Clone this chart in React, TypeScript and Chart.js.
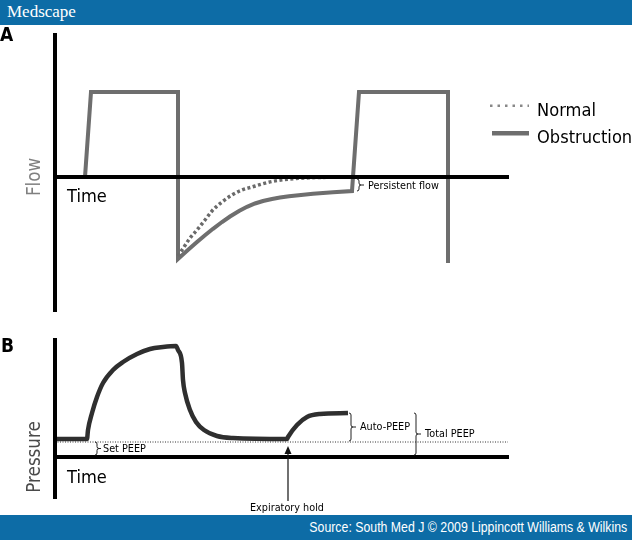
import React, { useEffect, useRef } from 'react';
import { Chart, registerables } from 'chart.js';

Chart.register(...registerables);

// ---------- Panel A: flow vs time (arbitrary units) ----------
const flowTimeObstruction = [30, 36, 123, 123, 129, 134, 142, 150, 158, 167, 175, 184, 192, 200, 208, 217, 225, 234, 258, 278, 297, 304, 393, 393];
const flowObstruction = [0, 85, 85, -82, -76.5, -72, -65, -58.2, -51.8, -45, -39.5, -34, -29.8, -26.5, -24, -22, -20.6, -19.3, -16.8, -15.2, -14, 85, 85, -86];
const flowTimeNormal = [123, 129, 135, 142, 150, 157, 167, 177, 187, 197, 207, 217, 235, 255, 285];
const flowNormal = [-79, -70, -61, -53, -43, -34, -25, -18, -13, -10, -7, -4.5, -2, -0.8, 0];
const flowSeriesNames = ['Normal', 'Obstruction'];
const persistentFlowTime = 302;
const persistentFlowLevel = -14;

// ---------- Panel B: pressure vs time (arbitrary units) ----------
const pressureTime = [0, 32, 33, 37, 42, 48, 58, 68, 82, 95, 108, 121, 123, 127, 128, 130, 135, 141, 149, 162, 178, 232, 233, 242, 252, 265, 293];
const pressure = [18, 18, 27, 44, 60, 74, 87, 95, 103, 108, 110, 111, 107, 94, 77, 64, 47, 35, 27, 21, 19, 18, 20, 32, 40, 43, 44];
const peepTime = [0, 453];
const setPeepLevel = [15, 15];
const autoPeepLevel = 44;
const setPeepBraceTime = 40;
const autoPeepBraceTime = 294;
const totalPeepBraceTime = 359;
const expiratoryHoldTime = 233;

const TIME_RANGE = [0, 453];
const FLOW_RANGE = [-134, 142];
const PRESSURE_RANGE = [-41, 117];

const BLUE = '#0d6ca6';
const SANS = '"DejaVu Sans", Verdana, sans-serif';

function txt(ctx: any, s: string, x: number, y: number, o: any = {}) {
  ctx.save();
  ctx.translate(x, y);
  if (o.rot) ctx.rotate(o.rot);
  ctx.scale(o.sx ?? 0.88, 1);
  ctx.font = o.font;
  ctx.fillStyle = o.color ?? '#000';
  ctx.textAlign = o.align ?? 'left';
  ctx.textBaseline = o.base ?? 'alphabetic';
  ctx.fillText(s, 0, 0);
  ctx.restore();
}

function brace(ctx: any, x: number, yTop: number, yBot: number, w: number) {
  const m = (yTop + yBot) / 2;
  const r = Math.min(2, (yBot - yTop) / 4);
  ctx.save();
  ctx.strokeStyle = '#222';
  ctx.lineWidth = 1;
  ctx.beginPath();
  ctx.moveTo(x, yTop);
  ctx.quadraticCurveTo(x + r, yTop, x + r, yTop + r);
  ctx.lineTo(x + r, m - r);
  ctx.quadraticCurveTo(x + r, m, x + 2 * r, m);
  ctx.lineTo(x + w, m);
  ctx.moveTo(x + 2 * r, m);
  ctx.quadraticCurveTo(x + r, m, x + r, m + r);
  ctx.lineTo(x + r, yBot - r);
  ctx.quadraticCurveTo(x + r, yBot, x, yBot);
  ctx.stroke();
  ctx.restore();
}

function axisScales(yRange: number[]) {
  const common = {
    type: 'linear',
    ticks: { display: false },
    grid: { display: false, drawTicks: false },
    border: { display: true, width: 4, color: '#000', z: 1 },
  };
  return {
    x: { ...common, min: TIME_RANGE[0], max: TIME_RANGE[1], position: { y: 0 } },
    y: { ...common, min: yRange[0], max: yRange[1] },
  };
}

const annotA = {
  id: 'annotA',
  afterDraw(chart: any) {
    const { ctx, chartArea, scales } = chart;
    const x = scales.x, y = scales.y;
    const y0 = y.getPixelForValue(0);
    txt(ctx, 'A', 0, 16, { font: `bold 19px ${SANS}`, sx: 0.9 });
    txt(ctx, 'Flow', chartArea.left - 20, y0, { font: `19px ${SANS}`, color: '#808080', rot: -Math.PI / 2, align: 'center', base: 'middle' });
    txt(ctx, 'Time', chartArea.left + 12, y0 + 25, { font: `18.5px ${SANS}` });
    const bx = x.getPixelForValue(persistentFlowTime);
    const bTop = y.getPixelForValue(0) + 2;
    const bBot = y.getPixelForValue(persistentFlowLevel);
    brace(ctx, bx, bTop, bBot, 7);
    txt(ctx, 'Persistent flow', bx + 11, (bTop + bBot) / 2 + 1, { font: `11px ${SANS}`, base: 'middle' });

    // legend
    const ds = chart.data.datasets;
    ctx.save();
    ctx.strokeStyle = '#888';
    ctx.lineWidth = 2.5;
    ctx.setLineDash([2.5, 5]);
    ctx.beginPath();
    ctx.moveTo(490, 80.7);
    ctx.lineTo(529, 80.7);
    ctx.stroke();
    ctx.setLineDash([]);
    ctx.strokeStyle = ds[1].borderColor;
    ctx.lineWidth = 4.5;
    ctx.beginPath();
    ctx.moveTo(492, 108.3);
    ctx.lineTo(529, 108.3);
    ctx.stroke();
    ctx.restore();
    txt(ctx, ds[0].label, 537, 91, { font: `18.5px ${SANS}` });
    txt(ctx, ds[1].label, 537, 118, { font: `18.5px ${SANS}` });
  },
};

const annotB = {
  id: 'annotB',
  afterDraw(chart: any) {
    const { ctx, chartArea, scales } = chart;
    const x = scales.x, y = scales.y;
    const y0 = y.getPixelForValue(0);
    txt(ctx, 'B', 1, 32, { font: `bold 19px ${SANS}`, sx: 0.9 });
    txt(ctx, 'Pressure', chartArea.left - 20, y0, { font: `19px ${SANS}`, color: '#4a4a4a', rot: -Math.PI / 2, align: 'center', base: 'middle' });
    txt(ctx, 'Time', chartArea.left + 12, y0 + 26, { font: `18.5px ${SANS}` });

    const peepY = y.getPixelForValue(setPeepLevel[0]);
    const baseY = y0 - 2;
    const autoY = y.getPixelForValue(autoPeepLevel);

    let bx = x.getPixelForValue(setPeepBraceTime);
    brace(ctx, bx, peepY, baseY, 6);
    txt(ctx, 'Set PEEP', bx + 8, (peepY + baseY) / 2 + 1, { font: `11px ${SANS}`, base: 'middle' });

    bx = x.getPixelForValue(autoPeepBraceTime);
    brace(ctx, bx, autoY, peepY - 1, 7);
    txt(ctx, 'Auto-PEEP', bx + 11, (autoY + peepY) / 2, { font: `11px ${SANS}`, base: 'middle' });

    bx = x.getPixelForValue(totalPeepBraceTime);
    brace(ctx, bx, autoY, baseY, 7);
    txt(ctx, 'Total PEEP', bx + 11, (autoY + baseY) / 2, { font: `11px ${SANS}`, base: 'middle' });

    // expiratory hold arrow
    const ax = x.getPixelForValue(expiratoryHoldTime);
    const tip = y.getPixelForValue(setPeepLevel[0] - 4);
    ctx.save();
    ctx.strokeStyle = '#111';
    ctx.fillStyle = '#111';
    ctx.lineWidth = 1.2;
    ctx.beginPath();
    ctx.moveTo(ax, tip + 6);
    ctx.lineTo(ax, 181);
    ctx.stroke();
    ctx.beginPath();
    ctx.moveTo(ax, tip);
    ctx.lineTo(ax - 3.5, tip + 8);
    ctx.lineTo(ax + 3.5, tip + 8);
    ctx.closePath();
    ctx.fill();
    ctx.restore();
    txt(ctx, 'Expiratory hold', ax - 1, 188.5, { font: `11px ${SANS}`, align: 'center', base: 'middle' });
  },
};

export default function App() {
  const refA = useRef<HTMLCanvasElement>(null);
  const refB = useRef<HTMLCanvasElement>(null);

  useEffect(() => {
    const chartA = new Chart(refA.current as HTMLCanvasElement, {
      type: 'line',
      data: {
        datasets: [
          {
            label: flowSeriesNames[0],
            data: flowTimeNormal.map((t, i) => ({ x: t, y: flowNormal[i] })),
            borderColor: '#6a6a6a',
            borderWidth: 3.5,
            borderDash: [3, 2.5],
            borderCapStyle: 'butt',
            cubicInterpolationMode: 'monotone',
            pointRadius: 0,
            fill: false,
          },
          {
            label: flowSeriesNames[1],
            data: flowTimeObstruction.map((t, i) => ({ x: t, y: flowObstruction[i] })),
            borderColor: '#6e6e6e',
            borderWidth: 4,
            borderJoinStyle: 'miter',
            tension: 0,
            pointRadius: 0,
            fill: false,
          },
        ],
      } as any,
      options: {
        animation: false,
        responsive: false,
        maintainAspectRatio: false,
        layout: { padding: { left: 55, right: 124, top: 10, bottom: 9 } },
        plugins: { legend: { display: false }, tooltip: { enabled: false } },
        scales: axisScales(FLOW_RANGE) as any,
      },
      plugins: [annotA],
    });

    const chartB = new Chart(refB.current as HTMLCanvasElement, {
      type: 'line',
      data: {
        datasets: [
          {
            label: 'Set PEEP',
            data: peepTime.map((t, i) => ({ x: t, y: setPeepLevel[i] })),
            borderColor: '#333',
            borderWidth: 1,
            borderDash: [1, 1.5],
            pointRadius: 0,
            fill: false,
          },
          {
            label: 'Pressure',
            data: pressureTime.map((t, i) => ({ x: t, y: pressure[i] })),
            borderColor: '#2f2f2f',
            borderWidth: 4.5,
            borderJoinStyle: 'round',
            borderCapStyle: 'butt',
            cubicInterpolationMode: 'monotone',
            pointRadius: 0,
            fill: false,
          },
        ],
      } as any,
      options: {
        animation: false,
        responsive: false,
        maintainAspectRatio: false,
        layout: { padding: { left: 55, right: 124, top: 20, bottom: 17 } },
        plugins: { legend: { display: false }, tooltip: { enabled: false } },
        scales: axisScales(PRESSURE_RANGE) as any,
      },
      plugins: [annotB],
    });

    return () => {
      chartA.destroy();
      chartB.destroy();
    };
  }, []);

  return (
    <div style={{ position: 'absolute', left: 0, top: 0, width: 632, height: 540, background: '#fff', overflow: 'hidden' }}>
      <div style={{ position: 'absolute', left: 0, top: 0, width: 632, height: 25, background: BLUE }}>
        <span
          style={{
            position: 'absolute',
            left: 7,
            top: 3,
            font: '17px "Liberation Serif", "Times New Roman", serif',
            lineHeight: '17px',
            color: '#fff',
            whiteSpace: 'nowrap',
          }}
        >
          Medscape
        </span>
      </div>
      <canvas ref={refA} width={632} height={295} style={{ position: 'absolute', left: 0, top: 25, width: 632, height: 295 }} />
      <canvas ref={refB} width={632} height={195} style={{ position: 'absolute', left: 0, top: 320, width: 632, height: 195 }} />
      <div style={{ position: 'absolute', left: 0, top: 515, width: 632, height: 25, background: BLUE }}>
        <span
          style={{
            position: 'absolute',
            right: 5,
            top: 0,
            font: '14px "Liberation Sans", Arial, sans-serif',
            lineHeight: '25px',
            color: '#fff',
            whiteSpace: 'nowrap',
            display: 'inline-block',
            transform: 'scaleX(0.88)',
            transformOrigin: '100% 50%',
          }}
        >
          {'Source: South Med J © 2009 Lippincott Williams & Wilkins'}
        </span>
      </div>
    </div>
  );
}
